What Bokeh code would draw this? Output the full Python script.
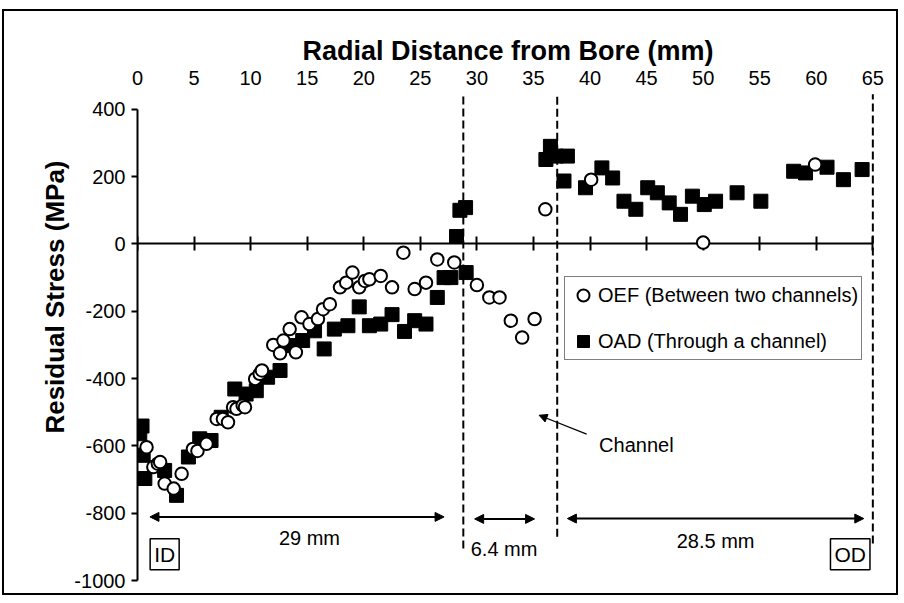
from bokeh.plotting import figure
from bokeh.models import (LinearAxis, FixedTicker, Range1d, Legend, LegendItem, Label,
                          Arrow, NormalHead, ColumnDataSource, Title)
from bokeh.core.properties import value
from bokeh.embed import file_html
from bokeh.resources import INLINE

FONT = "Liberation Sans"

# ---- axis ticks ----
x_ticks = [0, 5, 10, 15, 20, 25, 30, 35, 40, 45, 50, 55, 60, 65]
y_ticks = [-1000, -800, -600, -400, -200, 0, 200, 400]
y_tick_labels = ["-1000", "-800", "-600", "-400", "-200", "0", "200", "400"]

# ---- OEF (Between two channels): open circles ----
oef_x = [0.8, 1.4, 1.8, 2.0, 2.4, 3.2, 3.9, 4.9, 5.3, 6.1, 7.0, 7.55, 8.0, 8.45, 8.75,
         9.3, 9.5, 10.4, 10.8, 11.0, 12.0, 12.6, 12.9, 13.45, 14.0, 14.5, 15.2, 15.95,
         16.4, 17.0, 17.9, 18.45, 19.0, 19.6, 20.1, 20.5, 21.5, 22.5, 23.5, 24.5, 25.5,
         26.5, 28.0, 30.0, 31.1, 32.0, 33.0, 34.0, 35.1, 36.05, 40.1, 50.0, 59.9]
oef_y = [-604, -663, -653, -648, -712, -727, -683, -609, -615, -594, -520, -520, -530,
         -485, -490, -480, -485, -401, -386, -376, -300, -325, -287, -253, -322, -218,
         -238, -223, -194, -179, -129, -115, -85, -129, -110, -105, -95, -129, -26,
         -134, -115, -46, -55, -122, -159, -159, -228, -278, -223, 103, 191, 4, 236]

# ---- OAD (Through a channel): filled squares ----
oad_x = [0.2, 0.4, 0.5, 0.65, 2.4, 3.45, 4.5, 5.5, 6.5, 7.4, 8.6, 9.6, 10.5, 11.5,
         12.6, 13.6, 14.6, 15.65, 16.5, 17.4, 18.6, 19.6, 20.5, 21.5, 22.5, 23.6, 24.5,
         25.5, 26.5, 27.1, 27.7, 28.2, 28.5, 29.0, 29.05, 36.1, 36.5, 37.0, 38.0, 37.7,
         39.6, 41.05, 42.0, 43.0, 44.05, 45.1, 45.95, 47.0, 48.0, 49.05, 50.1, 51.1,
         53.0, 55.1, 58.0, 59.05, 60.95, 62.4, 64.05]
oad_y = [-564, -541, -628, -697, -673, -747, -633, -579, -584, -515, -431, -446, -436,
         -396, -376, -302, -287, -258, -312, -253, -243, -187, -243, -238, -210, -260,
         -228, -238, -159, -100, -100, 22, 100, 108, -85, 251, 290, 261, 261, 187, 167,
         226, 196, 127, 103, 167, 152, 122, 88, 142, 117, 127, 152, 127, 216, 211, 228,
         191, 221]

# ---- region boundaries (dashed) and dimension arrows ----
boundary_x = [28.8, 37.1, 65.0]
boundary_top = [445, 445, 445]
boundary_bottom = [-905, -870, -890]

dim_start = [1.1, 29.8, 38.0]
dim_end = [27.1, 35.1, 64.2]
dim_y = [-811, -817, -816]
dim_text = ["29 mm", "6.4 mm", "28.5 mm"]
dim_text_x = [15.2, 32.4, 51.1]
dim_text_y = [-875, -905, -882]

p = figure(width=896, height=586, x_range=Range1d(0, 65.5), y_range=Range1d(-1000, 450),
           output_backend="svg", toolbar_location=None,
           x_axis_location=None, y_axis_location=None,
           min_border_left=133, min_border_right=22, min_border_top=81, min_border_bottom=17)
p.margin = (9, 0, 0, 2)
p.outline_line_color = None
p.xgrid.visible = False
p.ygrid.visible = False
p.styles = {"border": "2px solid black"}

# left y axis
ya = LinearAxis(ticker=FixedTicker(ticks=y_ticks), bounds=(-1000, 400))
ya.major_label_overrides = {t: s for t, s in zip(y_ticks, y_tick_labels)}
ya.axis_line_width = 2
ya.major_tick_line_width = 2
ya.major_tick_in = 0
ya.major_tick_out = 6
ya.minor_tick_line_color = None
ya.major_label_standoff = 6
ya.major_label_text_font = FONT
ya.major_label_text_font_size = "20px"
ya.major_label_text_color = "black"
p.add_layout(ya, "left")

# y title, placed along the left side like the reference
p.add_layout(Title(text="Residual Stress (MPa)", align="right", offset=68,
                   text_font=FONT, text_font_style="bold", text_font_size="26px",
                   text_color="black", standoff=4), "left")

# top axis with labels only
xa = LinearAxis(ticker=FixedTicker(ticks=x_ticks), bounds=(0, 65),
                axis_label="Radial Distance from Bore (mm)")
xa.axis_line_color = None
xa.major_tick_line_color = None
xa.minor_tick_line_color = None
xa.major_tick_out = 0
xa.major_tick_in = 0
xa.major_label_standoff = 8
xa.major_label_text_font = FONT
xa.major_label_text_font_size = "20px"
xa.major_label_text_color = "black"
xa.axis_label_text_font = FONT
xa.axis_label_text_font_style = "bold"
xa.axis_label_text_font_size = "27px"
xa.axis_label_text_color = "black"
xa.axis_label_standoff = 2
p.add_layout(xa, "above")

# zero line with crossing ticks
za = LinearAxis(ticker=FixedTicker(ticks=x_ticks), bounds=(0, 65), fixed_location=0)
za.axis_line_width = 2
za.major_tick_line_width = 2
za.major_tick_in = 7
za.major_tick_out = 7
za.minor_tick_line_color = None
za.major_label_text_font_size = "1px"
za.major_label_text_color = None
za.major_label_standoff = 0
za.level = "underlay"
p.add_layout(za, "below")

# boundaries
p.segment(x0=boundary_x, y0=boundary_bottom, x1=boundary_x, y1=boundary_top,
          line_color="black", line_width=2, line_dash="8 4")

# data
sq = p.scatter(oad_x, oad_y, marker="square", size=14, fill_color="black", line_color="black")
ci = p.scatter(oef_x, oef_y, marker="circle", size=12.5, fill_color="white",
               line_color="black", line_width=2)

legend = Legend(items=[LegendItem(label="OEF (Between two channels)", renderers=[ci]),
                       LegendItem(label="OAD (Through a channel)", renderers=[sq])],
                location=(427, 220))
legend.label_text_font = FONT
legend.label_text_font_size = "20px"
legend.label_text_color = "black"
legend.glyph_width = 30
legend.glyph_height = 30
legend.label_standoff = -4
legend.padding = 3
legend.spacing = 16
legend.margin = 0
legend.border_line_color = "black"
legend.border_line_width = 1.5
legend.background_fill_color = "white"
legend.background_fill_alpha = 1
p.add_layout(legend, "center")

# dimension arrows
dim_src = ColumnDataSource(dict(x0=dim_start, x1=dim_end, y=dim_y))
p.add_layout(Arrow(x_start="x0", y_start="y", x_end="x1", y_end="y", source=dim_src,
                   line_width=2, line_color="black",
                   start=NormalHead(size=9, fill_color="black", line_color="black"),
                   end=NormalHead(size=9, fill_color="black", line_color="black")))
p.text(x=dim_text_x, y=dim_text_y, text=dim_text, text_font=value(FONT),
       text_font_size="20px", text_align="center", text_baseline="middle", text_color="black")

# channel annotation
p.add_layout(Arrow(x_start=39.7, y_start=-565, x_end=35.5, y_end=-509, line_width=1.2,
                   line_color="black",
                   end=NormalHead(size=8, fill_color="black", line_color="black")))
p.add_layout(Label(x=40.8, y=-598, text="Channel", text_font=FONT, text_font_size="20px",
                   text_align="left", text_baseline="middle", text_color="black"))

# ID / OD boxes
for lx, lt in [(2.4, "ID"), (63.0, "OD")]:
    p.add_layout(Label(x=lx, y=-922, text=lt, text_font=FONT, text_font_size="21px",
                       text_align="center", text_baseline="middle", text_color="black",
                       border_line_color="black", border_line_width=1.5,
                       background_fill_color="white", padding=4))

open("out.html", "w").write(file_html(p, INLINE))
